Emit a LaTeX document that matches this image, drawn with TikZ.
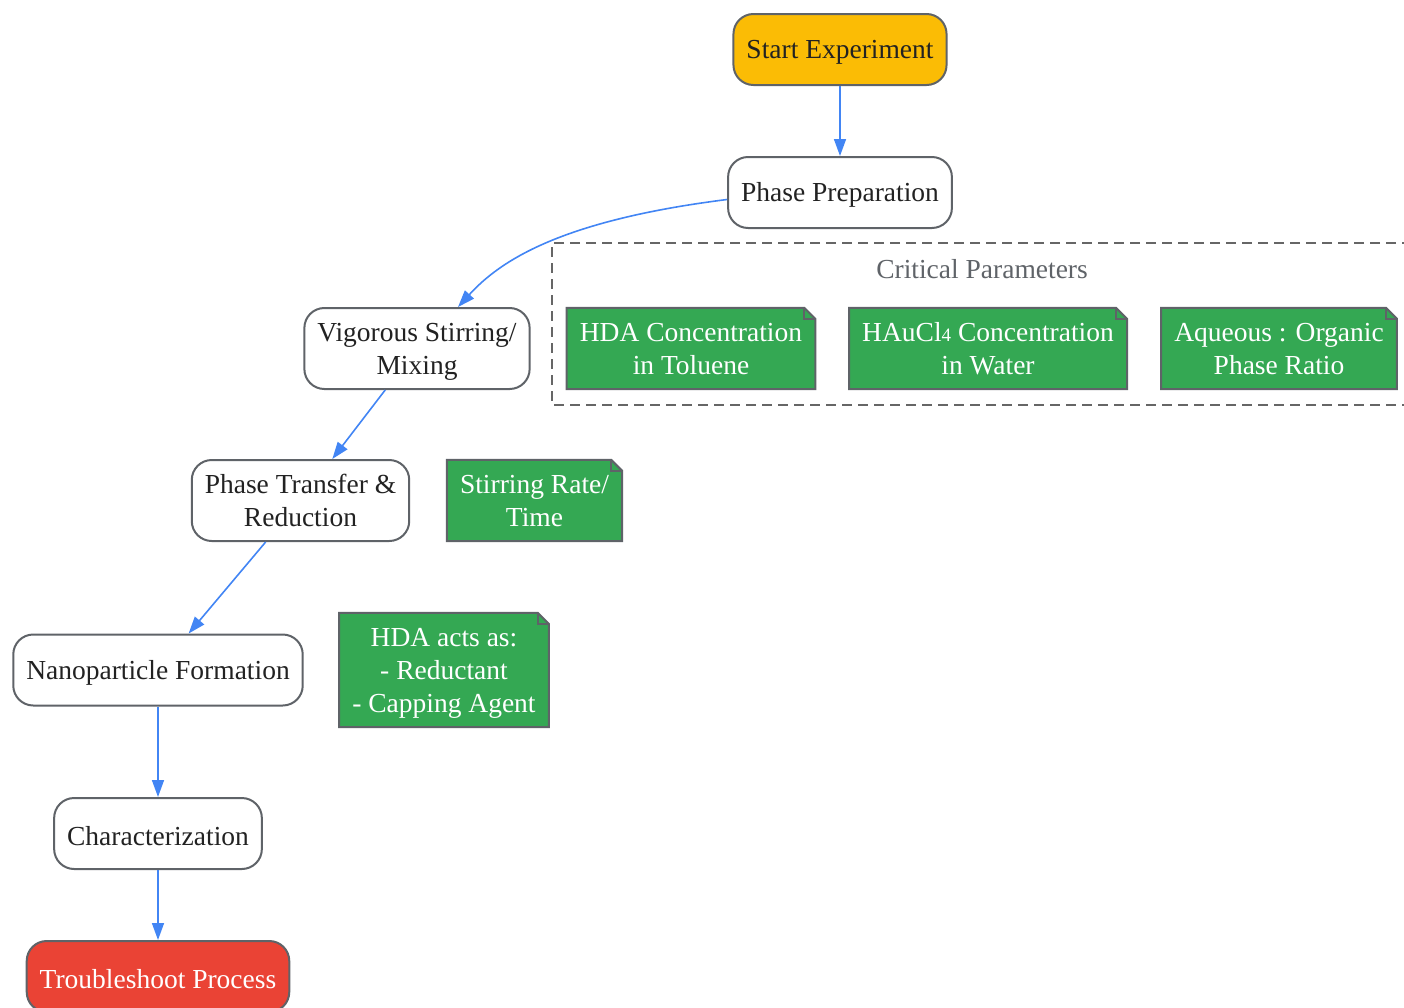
\documentclass[tikz,border=0pt]{standalone}
\usepackage{fontspec}
\setmainfont{Liberation Serif}
\usetikzlibrary{arrows.meta}
\usetikzlibrary{calc}
\usetikzlibrary{backgrounds}

\definecolor{flowblue}{HTML}{4285F4}
\definecolor{edgegray}{HTML}{5F6368}
\definecolor{textdark}{HTML}{222222}
\definecolor{startyellow}{HTML}{FBBC05}
\definecolor{notegreen}{HTML}{34A853}
\definecolor{stopred}{HTML}{EA4335}
\definecolor{clustergray}{HTML}{666666}

\tikzset{
  stepnode/.style={draw=edgegray, line width=2pt, rounded corners=20pt, fill=white,
    text=textdark, align=center, inner xsep=13pt, inner ysep=6pt, minimum height=71pt,
    execute at begin node={\rule{0pt}{24pt}}},
  twolines/.style={inner ysep=3pt, minimum height=81pt, text height=58pt, text depth=6pt},
  threelines/.style={inner ysep=3pt, minimum height=114pt, text height=91pt, text depth=6pt},
  notenode/.style={text=white, align=center, inner xsep=13pt, twolines},
  noteline/.style={draw=edgegray, line width=2pt, fill=notegreen, line join=miter},
  flow/.style={->, draw=flowblue, line width=1.6pt},
}

\begin{document}
\begin{tikzpicture}[x=1pt,y=-1pt, font=\fontsize{27.5}{33}\selectfont,
  >={Triangle[length=17pt,width=12pt]}]
  \useasboundingbox (0,0) rectangle (1404,1007);

  % cluster
  \draw [clustergray, line width=2pt, dash pattern=on 10pt off 6pt] (1412,243) -- (552,243) -- (552,405) -- (1412,405);
  \node [text=edgegray] (crit) at (982,269) {Critical Parameters};

  % main steps
  \node [stepnode, fill=startyellow] (start) at (840,49.5) {Start Experiment};
  \node [stepnode] (prep) at (840,192.5) {Phase Preparation};
  \node [stepnode, twolines] (vig) at (417,348.5) {Vigorous Stirring/\\Mixing};
  \node [stepnode, twolines] (trans) at (300.5,500.5) {Phase Transfer \&\\Reduction};
  \node [stepnode] (form) at (158,670) {Nanoparticle Formation};
  \node [stepnode] (charac) at (158,833.5) {Characterization};
  \node [stepnode, fill=stopred, text=white] (trouble) at (158,976.5) {Troubleshoot Process};

  % notes
  \node [notenode] (hdatol) at (691,348.5) {HDA Concentration\\in Toluene};
  \node [notenode] (haucl) at (988,348.5) {HAuCl{\fontsize{19}{19}\selectfont 4} Concentration\\in Water};
  \node [notenode] (ratio) at (1279,348.5) {Aqueous : Organic\\Phase Ratio};
  \node [notenode] (stir) at (534.5,500.5) {Stirring Rate/\\Time};
  \node [notenode, threelines] (hdarole) at (444,670) {HDA acts as:\\- Reductant\\- Capping Agent};

  \begin{scope}[on background layer]
    \foreach \n in {hdatol,haucl,ratio,stir,hdarole} {
      \filldraw [noteline] (\n.north west) -- ([xshift=-11pt]\n.north east)
        -- ([yshift=-11pt]\n.north east) -- (\n.south east) -- (\n.south west) -- cycle;
      \draw [edgegray, line width=2pt] ([xshift=-11pt]\n.north east) -- ++(0,11)
        -- ([yshift=-11pt]\n.north east);
    }
  \end{scope}

  % connectors
  \draw [flow] (start) -- (prep);
  \draw [flow] ([yshift=-7pt]prep.west) .. controls +(-167,21) and +(42,-46) .. ([xshift=41pt]vig.north);
  \draw [flow] (vig) -- (trans);
  \draw [flow] (trans) -- (form);
  \draw [flow] (form) -- (charac);
  \draw [flow] (charac) -- (trouble);
\end{tikzpicture}
\end{document}
